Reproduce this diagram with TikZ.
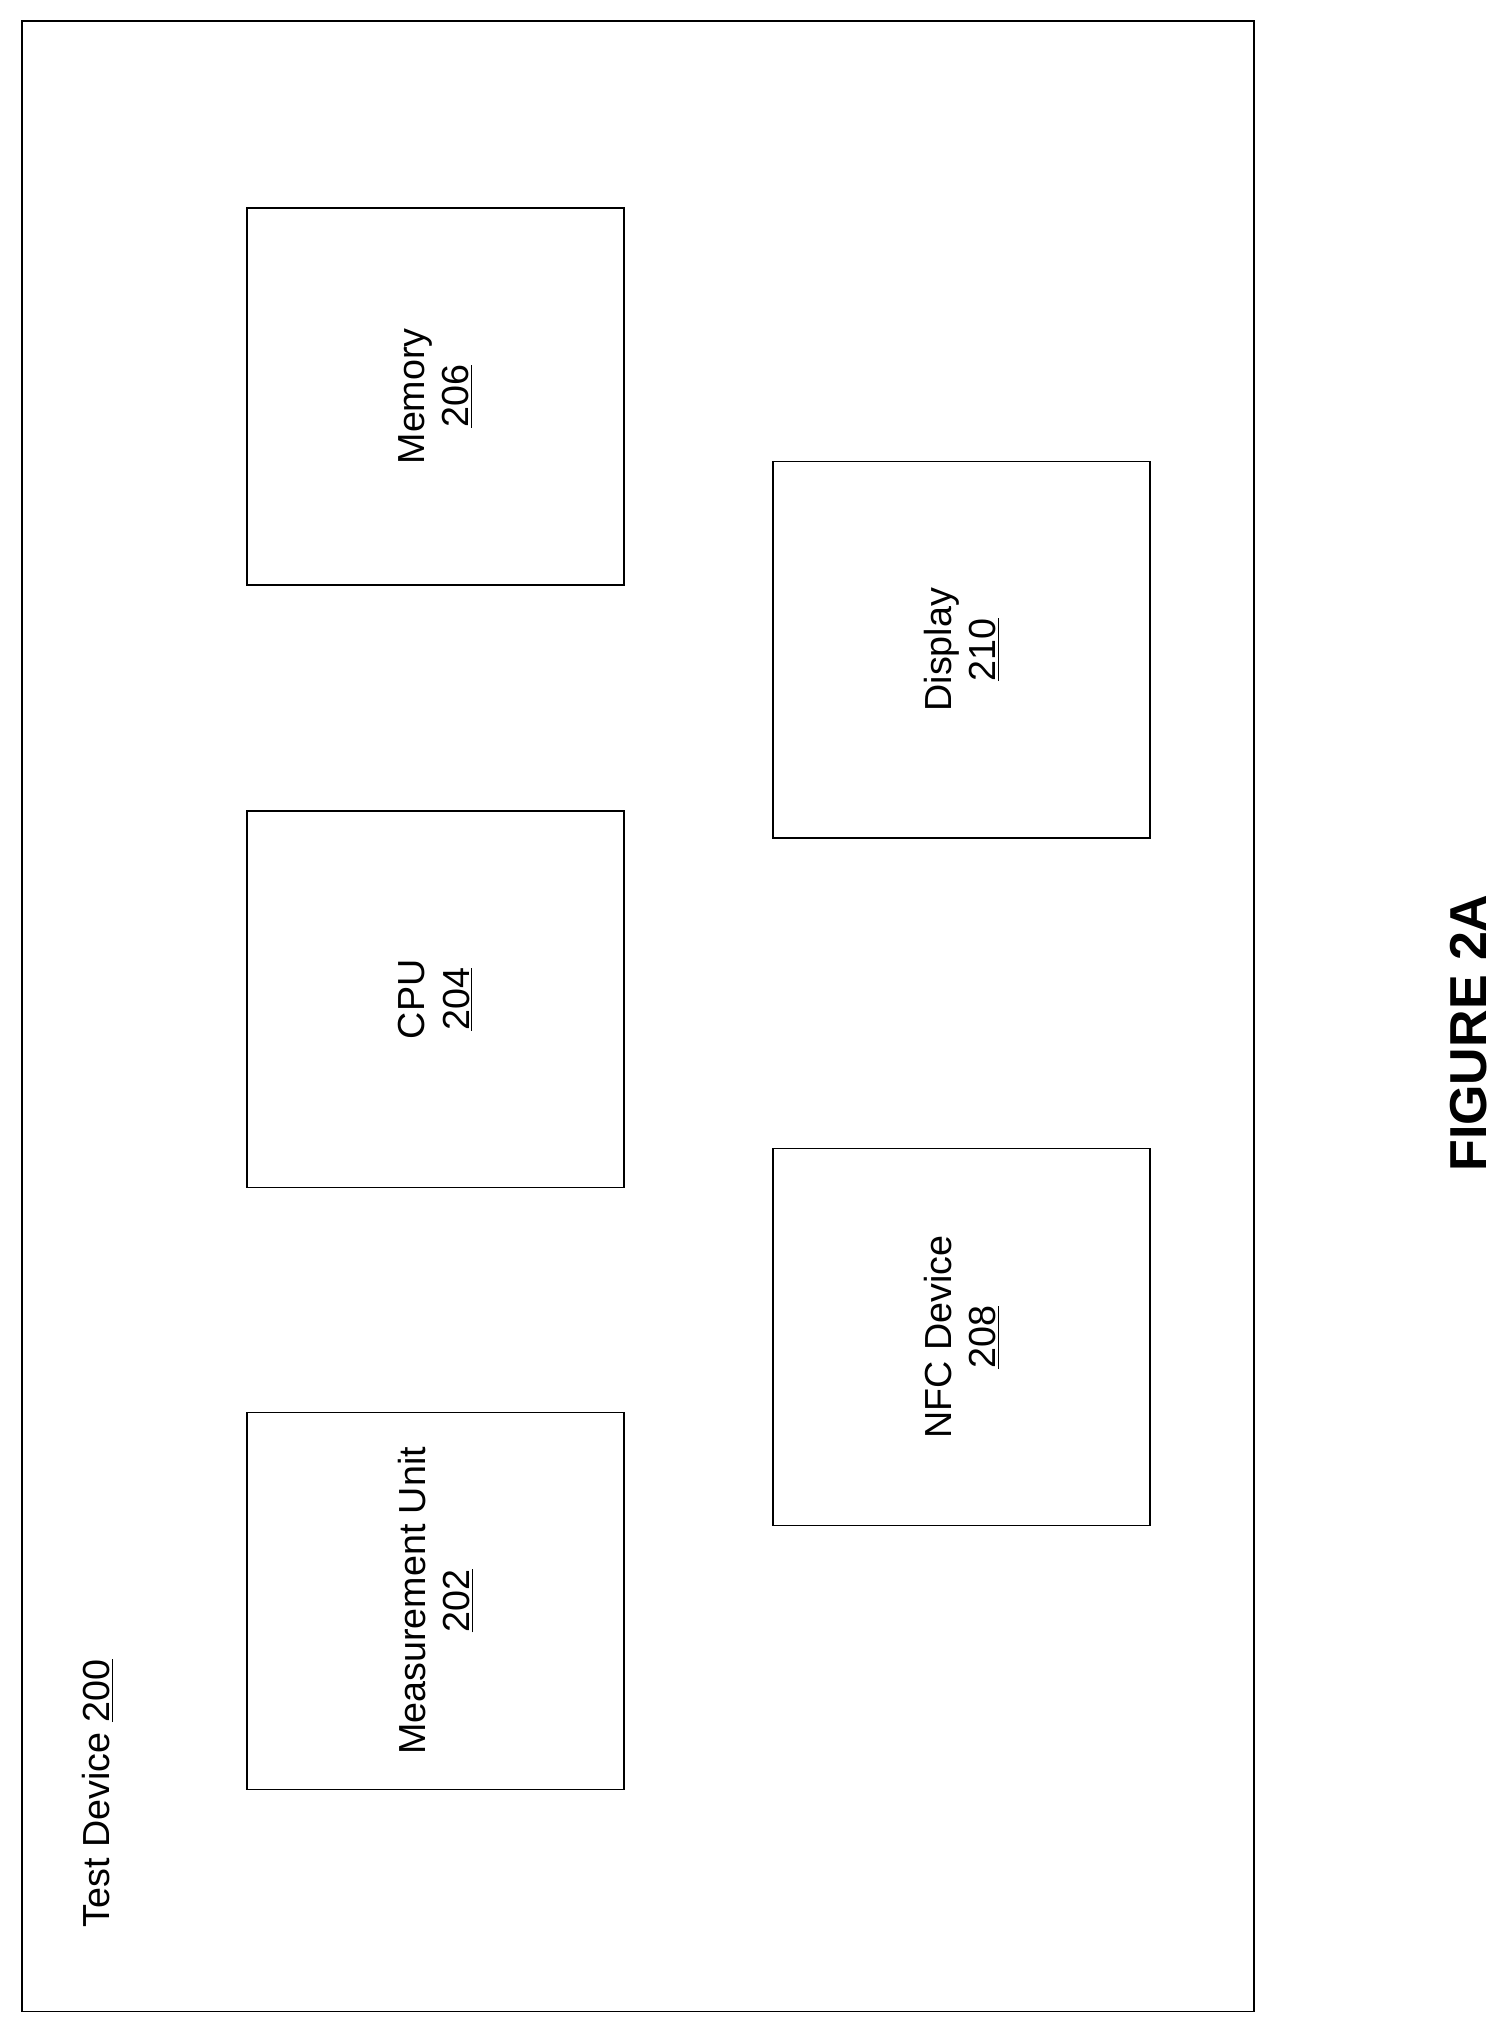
\documentclass[tikz,border=0pt]{standalone}
\usepackage{fontspec}
\setmainfont{Liberation Sans}
\usetikzlibrary{positioning}
\tikzset{
  unitbox/.style={draw, line width=1.2pt, minimum width=290pt, minimum height=290pt, inner sep=0pt},
  boxtext/.style={rotate=90, align=center, font=\fontsize{29}{34}\selectfont}
}
\begin{document}
\begin{tikzpicture}[x=1pt, y=-1pt]
    \useasboundingbox (0,0) rectangle (1162,1563);
    \draw [line width=1.4pt] (17,16) rectangle (965,1548);

    \node [unitbox] (Mem) at (335, 305) {};
    \node [unitbox] (Cpu) at (335, 769) {};
    \node [unitbox] (Meas) at (335, 1232) {};
    \node [unitbox] (Disp) at (740, 500) {};
    \node [unitbox] (Nfc) at (740, 1029) {};

    \node [boxtext] at (Mem) {Memory\\\underline{206}};
    \node [boxtext] at (Cpu) {CPU\\\underline{204}};
    \node [boxtext] at (Meas) {Measurement Unit\\\underline{202}};
    \node [boxtext] at (Disp) {Display\\\underline{210}};
    \node [boxtext] at (Nfc) {NFC Device\\\underline{208}};

    \node [boxtext] (Title) at (75, 1380) {Test Device \underline{200}};
    \node [rotate=90, font=\fontsize{40}{46}\selectfont\bfseries] (Fig) at (1130, 795) {FIGURE 2A};
\end{tikzpicture}
\end{document}
